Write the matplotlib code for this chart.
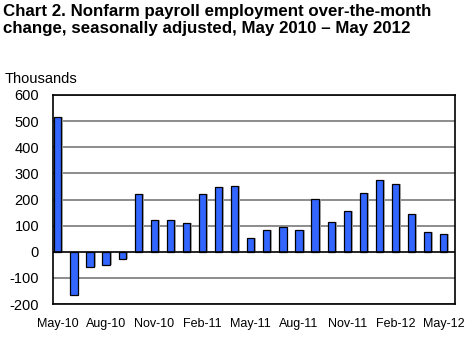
import matplotlib
matplotlib.use("Agg")
import matplotlib.pyplot as plt
import numpy as np

months = ["May-10", "Jun-10", "Jul-10", "Aug-10", "Sep-10", "Oct-10", "Nov-10",
          "Dec-10", "Jan-11", "Feb-11", "Mar-11", "Apr-11", "May-11", "Jun-11",
          "Jul-11", "Aug-11", "Sep-11", "Oct-11", "Nov-11", "Dec-11", "Jan-12",
          "Feb-12", "Mar-12", "Apr-12", "May-12"]
change = [516, -167, -58, -51, -27, 220, 121, 120, 110, 220, 246, 251, 54, 84,
          96, 85, 202, 112, 157, 223, 275, 259, 143, 77, 69]
yticks = [-200, -100, 0, 100, 200, 300, 400, 500, 600]

plt.rcParams["font.family"] = ["Liberation Sans", "DejaVu Sans"]

fig = plt.figure(figsize=(4.7, 3.38), dpi=100)
ax = fig.add_axes([53 / 470, 1 - 304 / 338, 402 / 470, 209 / 338])

x = np.arange(len(months))
# soft drop shadow behind each bar
ax.bar(x + 0.12, change, width=0.45, color="#b0b0b0", edgecolor="none", zorder=2)
ax.bar(x, change, width=0.45, color="#3366ff", edgecolor="black", linewidth=0.9, zorder=3)

ax.set_xlim(-0.3, 24.7)
ax.set_ylim(-200, 600)
ax.set_yticks(yticks)
ax.set_yticklabels([str(v) for v in yticks], fontsize=10.5)
ax.set_xticks(x[::3])
ax.set_xticklabels(months[::3], fontsize=9)
ax.tick_params(axis="both", length=0)
ax.tick_params(axis="y", pad=10)
ax.tick_params(axis="x", pad=10)

for v in yticks:
    if v != 0:
        ax.axhline(v, color="#8c8c8c", linewidth=1.4, zorder=1)
ax.axhline(0, color="black", linewidth=1.2, zorder=4)

for s in ax.spines.values():
    s.set_color("black")
    s.set_linewidth(1.2)

fig.text(3 / 470, 1 - 4 / 338,
         "Chart 2. Nonfarm payroll employment over-the-month\n"
         "change, seasonally adjusted, May 2010 \u2013 May 2012",
         fontsize=12.2, fontweight="bold", va="top", ha="left", linespacing=1.15)
fig.text(5 / 470, 1 - 83 / 338, "Thousands", fontsize=10.5, va="baseline", ha="left")

fig.savefig("out.png", dpi=100)
